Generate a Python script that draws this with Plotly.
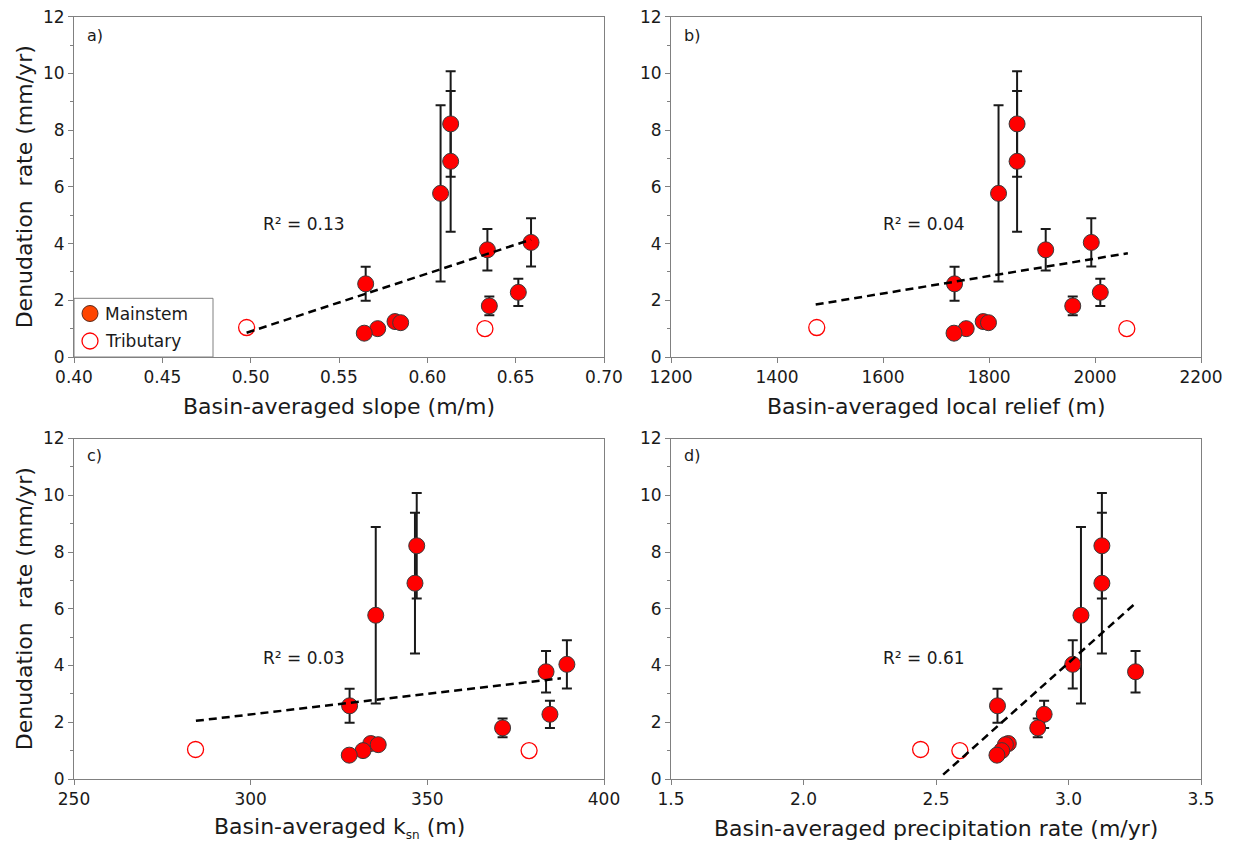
import plotly.graph_objects as go

# ---- data -------------------------------------------------------------
# Denudation rates (mm/yr) and 1-sigma uncertainties of mainstem samples
rate_main = [8.22, 6.90, 5.77, 4.04, 3.78, 2.58, 2.28, 1.80, 1.25, 1.21, 1.00, 0.84]
err_main = [1.86, 2.48, 3.11, 0.85, 0.73, 0.60, 0.48, 0.33, 0.12, 0.12, 0.10, 0.10]
# Tributary samples
rate_trib = [1.04, 1.00]

# Basin-averaged metrics for each sample (same order as the rates)
slope_main = [0.6132, 0.6132, 0.6075, 0.6587, 0.6340, 0.5651, 0.6515, 0.6351, 0.5817, 0.5849, 0.5719, 0.5643]
slope_trib = [0.4977, 0.6326]
relief_main = [1853, 1853, 1818, 1993, 1907, 1735, 2010, 1958, 1789, 1799, 1757, 1734]
relief_trib = [1475, 2060]
ksn_main = [347.0, 346.5, 335.4, 389.5, 383.6, 328.0, 384.7, 371.3, 334.0, 336.1, 331.8, 327.9]
ksn_trib = [284.4, 378.8]
precip_main = [3.126, 3.126, 3.047, 3.016, 3.253, 2.732, 2.908, 2.884, 2.773, 2.762, 2.748, 2.730]
precip_trib = [2.442, 2.590]

# Linear trends: slope, intercept and x-extent of each fitted line
trend_slope = [20.4, 0.003073, 0.01452, 8.327]
trend_intercept = [-9.298, -2.677, -2.081, -20.89]
trend_xrange = [[0.4977, 0.6587], [1473, 2062], [284.5, 387.8], [2.527, 3.256]]
r2_labels = ["R² = 0.13", "R² = 0.04", "R² = 0.03", "R² = 0.61"]
r2_pos = [(0.5058, 4.69), (1595.8, 4.69), (302.9, 4.25), (2.291, 4.25)]

panel_letters = ["a)", "b)", "c)", "d)"]
x_titles = ["Basin-averaged slope (m/m)", "Basin-averaged local relief (m)",
            "Basin-averaged k<sub><span style='font-size:12px'>sn</span></sub> (m)",
            "Basin-averaged precipitation rate (m/yr)"]
y_title = "Denudation  rate (mm/yr)"
x_ranges = [[0.40, 0.70], [1200, 2200], [250, 400], [1.5, 3.5]]
x_dticks = [0.05, 200, 50, 0.5]
x_formats = [".2f", "d", "d", ".1f"]
legend_names = ["Mainstem", "Tributary"]

# ---- layout geometry (pixels on a 1233 x 844 page) --------------------
W, H = 1233, 844
FONT = "DejaVu Sans"
TXT = "#1a1a1a"
AX = "#808080"
col_px = [(74, 604), (671, 1201)]
row_px = [(16.7, 357), (438.5, 779)]


def px(x):
    return x / W


def py(y):
    return 1 - y / H


x_main = [slope_main, relief_main, ksn_main, precip_main]
x_trib = [slope_trib, relief_trib, ksn_trib, precip_trib]

fig = go.Figure()
layout = dict(
    width=W, height=H, margin=dict(l=0, r=0, t=0, b=0, autoexpand=False),
    paper_bgcolor="white", plot_bgcolor="white",
    font=dict(family=FONT, color=TXT, size=17),
    showlegend=False,
)
annotations = []
shapes = []

for i in range(4):
    r, c = divmod(i, 2)
    suffix = "" if i == 0 else str(i + 1)
    xa, ya = "x" + suffix, "y" + suffix
    x0, x1 = col_px[c]
    ytop, ybot = row_px[r]

    layout["xaxis" + suffix] = dict(
        domain=[px(x0), px(x1)], anchor=ya, range=x_ranges[i], automargin=False,
        dtick=x_dticks[i], tick0=x_ranges[i][0], tickformat=x_formats[i],
        ticks="outside", ticklen=5, tickwidth=1, tickcolor=AX,
        showline=True, linecolor=AX, linewidth=1, mirror=True,
        showgrid=False, zeroline=False,
        tickfont=dict(family=FONT, size=17, color=TXT),
    )
    layout["yaxis" + suffix] = dict(
        domain=[py(ybot), py(ytop)], anchor=xa, range=[0, 12], automargin=False,
        dtick=2, tick0=0,
        ticks="outside", ticklen=5, tickwidth=1, tickcolor=AX,
        minor=dict(dtick=1, tick0=0, ticks="outside", ticklen=3, tickcolor=AX),
        showline=True, linecolor=AX, linewidth=1, mirror=True,
        showgrid=False, zeroline=False,
        tickfont=dict(family=FONT, size=17, color=TXT),
    )

    # mainstem samples with error bars
    fig.add_trace(go.Scatter(
        x=x_main[i], y=rate_main, mode="markers", xaxis=xa, yaxis=ya,
        name=legend_names[0],
        marker=dict(size=16, color="#ff0000", line=dict(color="#3a3a3a", width=1)),
        error_y=dict(type="data", array=err_main, color="#1a1a1a", thickness=2, width=5),
    ))
    # tributary samples
    fig.add_trace(go.Scatter(
        x=x_trib[i], y=rate_trib, mode="markers", xaxis=xa, yaxis=ya,
        name=legend_names[1],
        marker=dict(size=16, symbol="circle-open", color="#ff0000", line=dict(width=1.3)),
    ))
    # fitted trend line
    tx = trend_xrange[i]
    ty = [trend_slope[i] * v + trend_intercept[i] for v in tx]
    fig.add_trace(go.Scatter(
        x=tx, y=ty, mode="lines", xaxis=xa, yaxis=ya, name="trend",
        line=dict(color="black", width=2.5, dash="8px,5px"),
    ))

    annotations.append(dict(
        x=r2_pos[i][0], y=r2_pos[i][1], xref=xa, yref=ya, text=r2_labels[i],
        showarrow=False, xanchor="left", yanchor="middle",
        font=dict(family=FONT, size=17, color=TXT)))
    annotations.append(dict(
        x=px(x0 + 11), y=py(ytop + (19 if r == 0 else 17)), xref="paper", yref="paper",
        text=panel_letters[i], showarrow=False, xanchor="left", yanchor="middle",
        font=dict(family=FONT, size=16, color=TXT)))
    annotations.append(dict(
        x=px((x0 + x1) / 2), y=py(ybot + 49), xref="paper", yref="paper",
        text=x_titles[i], showarrow=False, xanchor="center", yanchor="middle",
        font=dict(family=FONT, size=22, color=TXT)))
    if c == 0:
        annotations.append(dict(
            x=px(24.5), y=py((ytop + ybot) / 2), xref="paper", yref="paper",
            text=y_title, textangle=-90, showarrow=False,
            xanchor="center", yanchor="middle",
            font=dict(family=FONT, size=22, color=TXT)))

# ---- legend box in the lower-left corner of panel a --------------------
lg_left, lg_top, lg_right, lg_bottom = 74, 298.3, 213, 357
shapes.append(dict(type="rect", xref="paper", yref="paper",
                   x0=px(lg_left), x1=px(lg_right), y0=py(lg_bottom), y1=py(lg_top),
                   line=dict(color=AX, width=1), fillcolor="rgba(0,0,0,0)", layer="above"))
lg_rows = [313.5, 341]
rad = 8
# filled symbol for mainstem, open symbol for tributary
shapes.append(dict(type="circle", xref="paper", yref="paper",
                   x0=px(90 - rad), x1=px(90 + rad), y0=py(lg_rows[0] + rad), y1=py(lg_rows[0] - rad),
                   fillcolor="#ff4500", line=dict(color="#5a2a1a", width=1), layer="above"))
shapes.append(dict(type="circle", xref="paper", yref="paper",
                   x0=px(90 - rad), x1=px(90 + rad), y0=py(lg_rows[1] + rad), y1=py(lg_rows[1] - rad),
                   fillcolor="rgba(0,0,0,0)", line=dict(color="#ff0000", width=1.3), layer="above"))
for name, yrow in zip(legend_names, lg_rows):
    annotations.append(dict(
        x=px(103), y=py(yrow), xref="paper", yref="paper", text=name,
        showarrow=False, xanchor="left", yanchor="middle",
        font=dict(family=FONT, size=17, color=TXT)))

layout["annotations"] = annotations
layout["shapes"] = shapes
fig.update_layout(**layout)
fig.write_html("out.html")
